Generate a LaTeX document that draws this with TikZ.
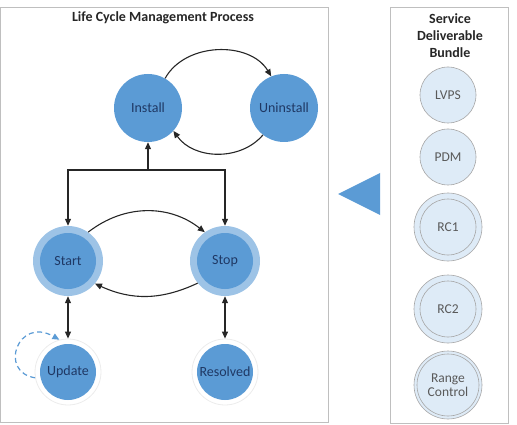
\documentclass[tikz,border=0pt]{standalone}
\usepackage{fontspec}
\setmainfont{Carlito}
\usetikzlibrary{arrows.meta}
\definecolor{myblue}{HTML}{5B9BD5}
\definecolor{ringblue}{HTML}{9DC3E6}
\definecolor{navy}{HTML}{1F3864}
\definecolor{pale}{HTML}{DEEBF7}
\definecolor{ringgray}{HTML}{A6A6A6}
\definecolor{boxgray}{HTML}{BFBFBF}
\definecolor{txtgray}{HTML}{595959}
\tikzset{
  core/.style={circle, fill=myblue, minimum size=56pt, inner sep=0pt, text=navy, font=\fontsize{14}{16}\selectfont},
  big/.style={circle, fill=myblue, minimum size=68pt, inner sep=0pt, text=navy, font=\fontsize{14}{16}\selectfont},
  ring/.style={circle, fill=ringblue, minimum size=70pt, inner sep=0pt},
  whitering/.style={circle, fill=white, draw=gray!15, line width=0.8pt, minimum size=66pt, inner sep=0pt},
  paleball/.style={circle, fill=pale, draw=ringgray, line width=0.6pt, minimum size=56pt, inner sep=0pt, text=txtgray, font=\fontsize{13.5}{15}\selectfont, align=center},
  paleouter/.style={circle, fill=pale, draw=ringgray, line width=0.6pt, minimum size=68pt, inner sep=0pt},
  arr/.style={draw=black!85, line width=1.1pt, -{Triangle[length=7pt,width=6pt]}},
  darr/.style={draw=black!85, line width=1.1pt, {Triangle[length=7pt,width=6pt]}-{Triangle[length=7pt,width=6pt]}},
  loop/.style={draw=myblue, line width=1.2pt, dash pattern=on 5pt off 3.5pt, -{Triangle[length=7pt,width=6pt]}},
  panel/.style={draw=boxgray, line width=0.8pt},
  heading/.style={font=\bfseries\fontsize{14}{17}\selectfont, text=black!85, align=center}
}
\begin{document}
\begin{tikzpicture}[x=1pt,y=-1pt]
\useasboundingbox (0,0) rectangle (517,425);
% panels
\draw[panel] (0.5,7) rectangle (328,422);
\draw[panel] (390,7) rectangle (508,423);
\node[heading] (title) at (163,18) {Life Cycle Management Process};
\node[heading] (sdb) at (450,36) {Service\\Deliverable\\Bundle};
% left nodes
\node[big] (install) at (148,108) {Install};
\node[big] (uninstall) at (284,108) {Uninstall};
\node[ring] (start) at (68,261) {};
\node[core] (startc) at (start) {Start};
\node[ring] (stop) at (225,261) {};
\node[core] (stopc) at (stop) {Stop};
\node[whitering] (update) at (68,372) {};
\node[core] (updatec) at (update) {Update};
\node[whitering] (resolved) at (225,372) {};
\node[core] (resolvedc) at (resolved) {Resolved};
% connectors
\draw[arr] (install.60) to[bend left=60] (uninstall.112);
\draw[arr] (uninstall.232) to[bend left=52] (install.318);
\coordinate (junc) at (148,170);
\draw[arr] (junc) -- (install);
\draw[arr] (junc) -| (start);
\draw[arr] (junc) -| (stop);
\draw[arr] (start.55) to[bend left=38] (stop.125);
\draw[arr] (stop.219) to[bend left=25] (start.320);
\draw[darr] (start) -- (update);
\draw[darr] (stop) -- (resolved);
\draw[loop] (update.190) .. controls (-2,372) and (18,316) .. (update.105);
% arrow triangle
\fill[myblue] (338,194) -- (380,173) -- (380,215) -- cycle;
% right nodes
\node[paleball] (lvps) at (448,95) {LVPS};
\node[paleball] (pdm) at (448,157) {PDM};
\node[paleouter] (rc1) at (448,227) {};
\node[paleball] (rc1c) at (rc1) {RC1};
\node[paleouter] (rc2) at (448,309) {};
\node[paleball] (rc2c) at (rc2) {RC2};
\node[paleouter] (range) at (448,385) {};
\node[paleball, minimum size=62pt] (rangec) at (range) {Range\\[-1pt]Control};
\end{tikzpicture}
\end{document}
